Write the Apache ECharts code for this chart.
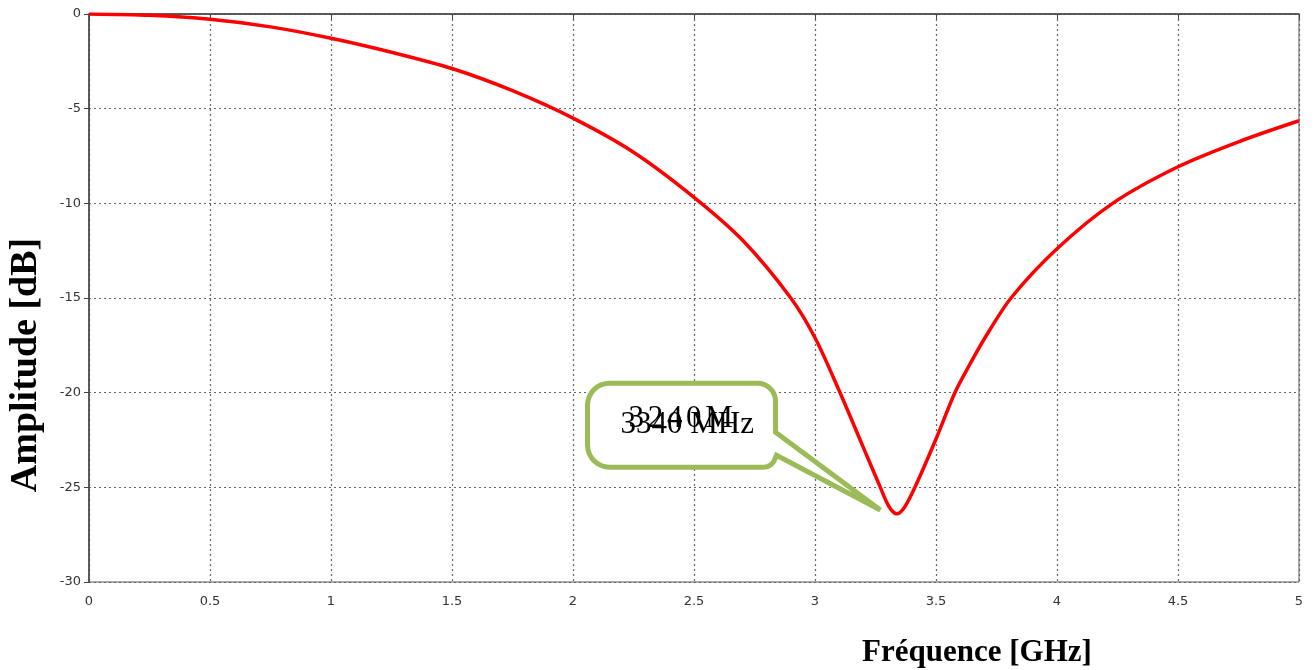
<!DOCTYPE html>
<html><head><meta charset="utf-8">
<script src="https://cdn.jsdelivr.net/npm/echarts@6/dist/echarts.min.js"></script>
<style>html,body{margin:0;padding:0;background:#fff}#c{width:1316px;height:670px}</style>
</head><body><div id="c"></div>
<script>
var freqGHz = [0, 0.25, 0.5, 0.75, 1, 1.25, 1.5, 1.75, 2, 2.25, 2.5, 2.7, 2.9, 3, 3.1, 3.2, 3.27, 3.305, 3.338, 3.37, 3.413, 3.5, 3.578, 3.64, 3.7, 3.81, 4, 4.23, 4.5, 4.75, 5];
var amplitudeDb = [0, -0.07, -0.28, -0.68, -1.28, -2.02, -2.88, -4.05, -5.5, -7.3, -9.68, -11.94, -15.0, -17.1, -19.9, -22.9, -25.0, -26.0, -26.4, -26.05, -25.0, -22.45, -20.0, -18.5, -17.15, -15.0, -12.4, -10.0, -8.07, -6.75, -5.64];
var xTicks = ['0','0.5','1','1.5','2','2.5','3','3.5','4','4.5','5'];
var yTicks = ['0','-5','-10','-15','-20','-25','-30'];
var calloutTexts = ['3340 MHz', '3240M'];

var chart = echarts.init(document.getElementById('c'), null, {renderer:'canvas'});
var tickFont = {fontFamily:'DejaVu Sans', fontSize:13, color:'#333'};
chart.setOption({
  animation:false,
  grid:{left:89, right:17, top:14, bottom:88, show:true, borderColor:'#555', borderWidth:1, containLabel:false, outerBoundsMode:'none'},
  xAxis:{type:'value', min:0, max:5, interval:0.5,
    name:'Fréquence [GHz]', nameLocation:'middle', nameGap:55,
    nameTextStyle:{fontFamily:'Liberation Serif', fontWeight:'bold', fontSize:31, color:'#000', padding:[0,0,0,566]},
    axisLine:{lineStyle:{color:'#444', width:1.5}},
    axisTick:{show:true, length:5, lineStyle:{color:'#444'}},
    axisLabel:Object.assign({margin:13, formatter:function(v){return xTicks[Math.round(v/0.5)];}}, tickFont),
    splitLine:{show:true, lineStyle:{type:[2,3], color:'#666', width:1.2}}
  },
  yAxis:{type:'value', min:-30, max:0, interval:5,
    name:'Amplitude [dB]', nameLocation:'middle', nameGap:44, nameRotate:90,
    nameTextStyle:{fontFamily:'Liberation Serif', fontWeight:'bold', fontSize:38, color:'#000', padding:[0,0,0,-134]},
    axisLine:{show:true, lineStyle:{color:'#444', width:1.5}},
    axisTick:{show:true, length:5, lineStyle:{color:'#444'}},
    axisLabel:Object.assign({margin:8, formatter:function(v){return yTicks[Math.round(-v/5)];}}, tickFont),
    splitLine:{show:true, lineStyle:{type:[2,3], color:'#666', width:1.2}}
  },
  series:[{type:'line', smooth:0.3, symbol:'none',
    lineStyle:{color:'#ff0000', width:3.5},
    data:freqGHz.map(function(f,i){return [f, amplitudeDb[i]];})
  }]
});

// callout annotation anchored in data space
var tip = chart.convertToPixel({gridIndex:0}, [3.27, -26.2]);
var tl = chart.convertToPixel({gridIndex:0}, [2.06, -19.5]);
var bx = tl[0], by = tl[1], bw = 188, bh = 84;
var R = bx + bw, B = by + bh;
function arc(cx, cy, r, a0, a1, out) {
  for (var k = 0; k <= 8; k++) {
    var a = a0 + (a1 - a0) * k / 8;
    out.push([cx + r * Math.cos(a), cy + r * Math.sin(a)]);
  }
}
var pts = [];
var rl = 22, rr = 18, rb = 12;
arc(bx + rl, by + rl, rl, Math.PI, 1.5 * Math.PI, pts);
arc(R - rr, by + rr, rr, 1.5 * Math.PI, 2 * Math.PI, pts);
pts.push([R, by + 49]);
pts.push([tip[0], tip[1]]);
pts.push([R + 1, by + 72]);
arc(R - rb, B - rb, rb, 0.15 * Math.PI, 0.5 * Math.PI, pts);
arc(bx + rl, B - rl, rl, 0.5 * Math.PI, Math.PI, pts);
var green = '#9BBB59';
var g = [
  {type:'polygon', shape:{points:pts}, style:{fill:'#fff', stroke:green, lineWidth:5, lineJoin:'miter'}, z:100},
  {type:'text', x:bx+33, y:by+26, style:{text:calloutTexts[0], font:'31px "Liberation Serif"', fill:'#000'}, z:103}
];
var chars = calloutTexts[1].split('');
chars.forEach(function(ch, i){
  g.push({type:'text', x:bx+41+i*19.2, y:by+20, style:{text:ch, font:'31px "Liberation Serif"', fill:'#000'}, z:103});
});
chart.setOption({graphic:g});
</script></body></html>
